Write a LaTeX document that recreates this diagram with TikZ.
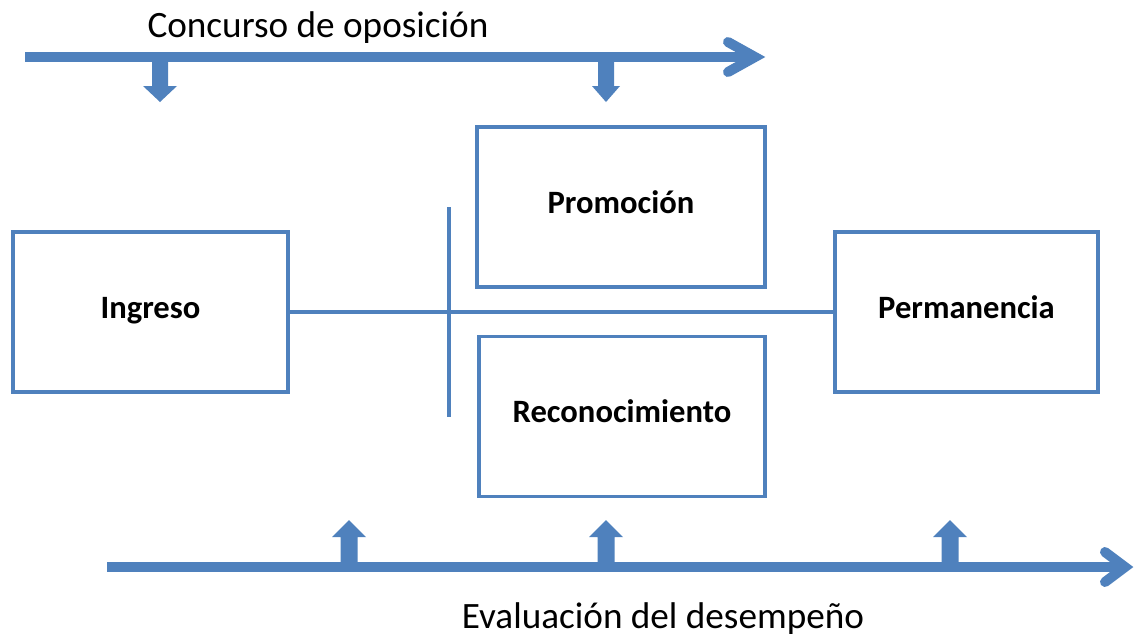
\documentclass[tikz,border=0pt]{standalone}
\usepackage{fontspec}
\setmainfont{Carlito}
\usepackage{tikz}
\usetikzlibrary{positioning, calc}
\definecolor{ofblue}{RGB}{79,129,189}

\begin{document}
\begin{tikzpicture}[x=0.5pt, y=-0.5pt,
    etapa/.style={draw=ofblue, line width=1.9pt, minimum height=80pt,
      font=\fontsize{16.3}{19}\selectfont\bfseries, inner sep=0pt,
      text height=9.5pt, text depth=3.5pt},
    eje/.style={draw=ofblue, line width=5pt},
    punta/.style={draw=ofblue, line width=5pt, line cap=round, line join=miter},
    titulo/.style={font=\fontsize{18.6}{22}\selectfont}]
  \useasboundingbox (0,0) rectangle (1137,639);

  % Boxes
  \node[etapa, minimum width=137.5pt] (ingreso) at (150.5,312) {Ingreso};
  \node[etapa, minimum width=144pt] (promocion) at (621,207) {Promoción};
  \node[etapa, minimum width=143pt] (reconocimiento) at (622,416.5) {Reconocimiento};
  \node[etapa, minimum width=131.5pt] (permanencia) at (966.5,312) {Permanencia};

  % Connectors
  \draw[draw=ofblue, line width=1.9pt] (ingreso.east) -- (permanencia.west);
  \coordinate (split top) at (449,207);
  \coordinate (split bottom) at (449,417);
  \draw[draw=ofblue, line width=1.9pt] (split top) -- (split bottom);

  % Concurso de oposicion
  \node[titulo] (concurso) at (318,28) {Concurso de oposición};
  \coordinate (concurso start) at (25,57);
  \coordinate (concurso end) at (755,57);
  \draw[eje] (concurso start) -- ($(concurso end)+(-4,0)$);
  \draw[punta] ($(concurso end)+(-27,-15)$) -- (concurso end) -- ($(concurso end)+(-27,15)$);
  \foreach \x/\w/\h in {160/8/17, 606/8/14}
    \fill[ofblue] ({\x-\w},57) -- ({\x-\w},86) -- ({\x-\h},86) -- (\x,102)
      -- ({\x+\h},86) -- ({\x+\w},86) -- ({\x+\w},57) -- cycle;

  % Evaluacion del desempeno
  \node[titulo] (evaluacion) at (663,619) {Evaluación del desempeño};
  \coordinate (evaluacion start) at (107,567);
  \coordinate (evaluacion end) at (1125,567);
  \draw[eje] (evaluacion start) -- ($(evaluacion end)+(-4,0)$);
  \draw[punta] ($(evaluacion end)+(-20,-15)$) -- (evaluacion end) -- ($(evaluacion end)+(-20,15)$);
  \foreach \x in {349, 606, 950}
    \fill[ofblue] ({\x-8.5},567) -- ({\x-8.5},537) -- ({\x-17},537) -- (\x,520)
      -- ({\x+17},537) -- ({\x+8.5},537) -- ({\x+8.5},567) -- cycle;
\end{tikzpicture}
\end{document}
